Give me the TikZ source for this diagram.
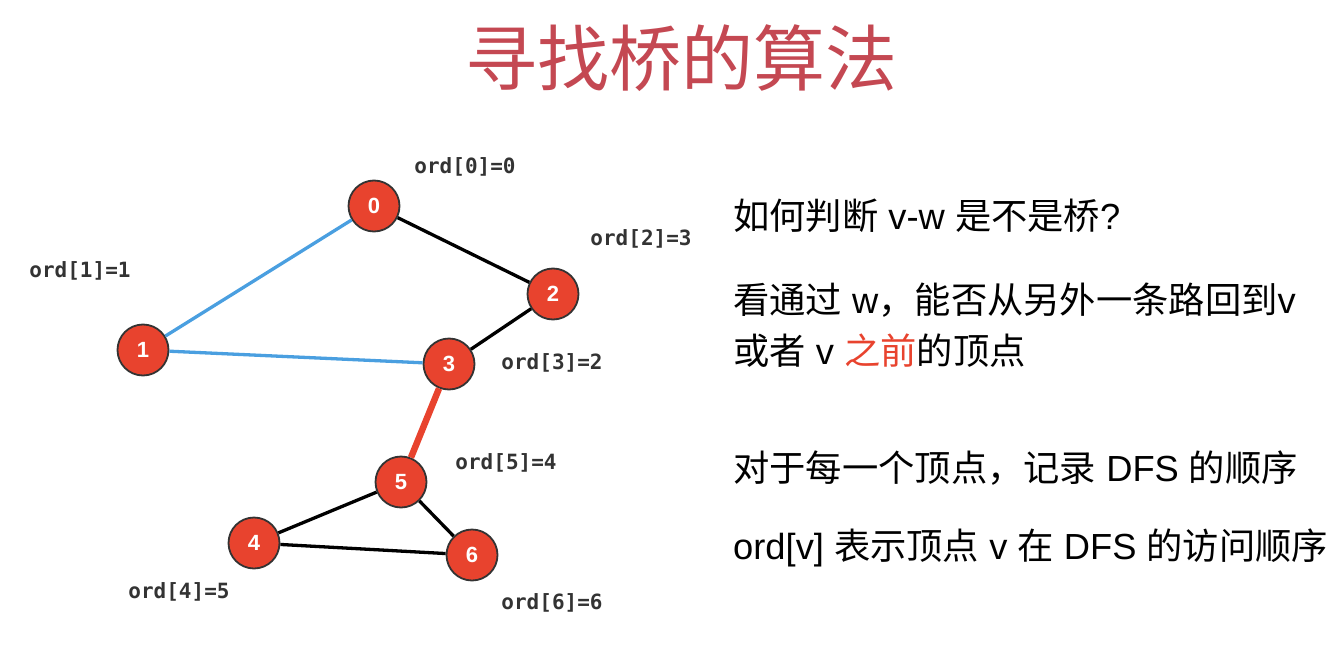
\documentclass[tikz,border=0pt]{standalone}
\usepackage{fontspec}
\setmainfont{Liberation Sans}
\newfontfamily\cjk{Noto Sans CJK SC}
\newfontfamily\monob{DejaVu Sans Mono}
\definecolor{titlered}{RGB}{196,72,82}
\definecolor{nodered}{RGB}{232,67,46}
\definecolor{edgeblue}{RGB}{74,159,224}
\definecolor{labgray}{RGB}{51,51,51}
\definecolor{hlred}{RGB}{232,67,46}
\tikzset{
  vtx/.style={circle, draw=black!80, line width=1.8pt, fill=nodered, minimum size=51pt, inner sep=0pt,
    text=white, font=\fontsize{22}{22}\selectfont\bfseries},
  ordlab/.style={font=\monob\fontsize{21}{21}\selectfont\bfseries, text=labgray, inner sep=0pt},
  blk/.style={draw=black, line width=3.3pt},
  blu/.style={draw=edgeblue, line width=3.3pt},
  redge/.style={draw=nodered, line width=6.5pt},
  rtext/.style={anchor=base west, inner sep=0pt, font=\fontsize{36.3}{36.3}\selectfont, text=black}
}
\begin{document}
\begin{tikzpicture}[x=1pt,y=-1pt]
\useasboundingbox (0,0) rectangle (1327,650);
\node[anchor=base, inner sep=0pt, font=\cjk\fontsize{72}{72}\selectfont, text=titlered] (title) at (681,86) {寻找桥的算法};

\node[vtx] (v0) at (374,206) {0};
\node[vtx] (v1) at (143,350) {1};
\node[vtx] (v2) at (553,294) {2};
\node[vtx] (v3) at (449,364) {3};
\node[vtx] (v5) at (401,482) {5};
\node[vtx] (v4) at (254,543) {4};
\node[vtx] (v6) at (472,555) {6};

\draw[blu] (v0) -- (v1);
\draw[blu] (v1) -- (v3);
\draw[blk] (v0) -- (v2);
\draw[blk] (v2) -- (v3);
\draw[redge] (v3) -- (v5);
\draw[blk] (v5) -- (v4);
\draw[blk] (v5) -- (v6);
\draw[blk] (v4) -- (v6);

\node[ordlab] (l0) at (465,167) {ord[0]=0};
\node[ordlab] (l1) at (80,271) {ord[1]=1};
\node[ordlab] (l2) at (641,239) {ord[2]=3};
\node[ordlab] (l3) at (552,363) {ord[3]=2};
\node[ordlab] (l5) at (506,463) {ord[5]=4};
\node[ordlab] (l4) at (179,592) {ord[4]=5};
\node[ordlab] (l6) at (552,603) {ord[6]=6};

\node[rtext] (t1) at (733,229) {{\cjk 如何判断} v-w {\cjk 是不是桥}?};
\node[rtext] (t2) at (733,313) {{\cjk 看通过} w{\cjk ，能否从另外一条路回到}v};
\node[rtext] (t3) at (733,364) {{\cjk 或者} v {\cjk\color{hlred}之前}{\cjk 的顶点}};
\node[rtext] (t4) at (733,481) {{\cjk 对于每一个顶点，记录} DFS {\cjk 的顺序}};
\node[rtext] (t5) at (733,559) {ord[v] {\cjk 表示顶点} v {\cjk 在} DFS {\cjk 的访问顺序}};
\end{tikzpicture}
\end{document}
